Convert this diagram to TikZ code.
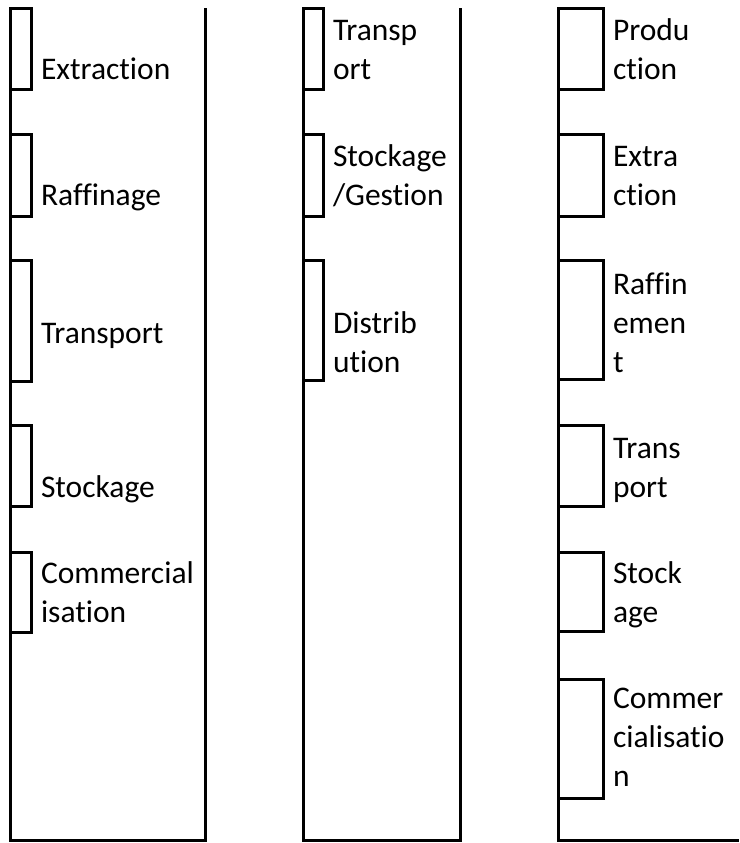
\documentclass[tikz,border=0pt]{standalone}
\usepackage{fontspec}
\setmainfont{Carlito}[RawFeature={-liga;-dlig;-clig}]
\begin{document}
\begin{tikzpicture}[x=1pt,y=-1pt,
  colline/.style={line width=3pt, draw=black, line join=miter},
  tabbox/.style={draw=black, line width=3pt, rectangle, inner sep=0pt, outer sep=0pt, anchor=north west},
  lbl/.style={anchor=base west, inner sep=0pt, outer sep=0pt, align=left,
    font=\fontsize{31.5}{39}\selectfont, text=black}]
\useasboundingbox (0,0) rectangle (739,843);
\fill[white] (0,0) rectangle (739,843);

% ---------- Column 1 ----------
\coordinate (c1tl) at (10.5,8.5);
\coordinate (c1bl) at (10.5,840);
\coordinate (c1br) at (205,840);
\coordinate (c1tr) at (205,8);
\draw[colline] (c1tl) -- (c1bl) -- (c1br) -- (c1tr);

\node[tabbox, minimum width=20.5pt, minimum height=80.5pt]  (a1) at (10.5,8.5) {};
\node[tabbox, minimum width=20.5pt, minimum height=82pt]    (a2) at (10.5,134) {};
\node[tabbox, minimum width=20.5pt, minimum height=121pt]   (a3) at (10.5,260) {};
\node[tabbox, minimum width=20.5pt, minimum height=81pt]    (a4) at (10.5,425) {};
\node[tabbox, minimum width=20.5pt, minimum height=80pt]    (a5) at (10.5,552) {};

\node[lbl] (ta1) at (41,80)  {Extraction};
\node[lbl] (ta2) at (41,205) {Raffinage};
\node[lbl] (ta3) at (41,343) {Transport};
\node[lbl] (ta4) at (41,497) {Stockage};
\node[lbl] (ta5) at (41,622) {Commercial\\isation};

% ---------- Column 2 ----------
\coordinate (c2tl) at (303,8.5);
\coordinate (c2bl) at (303,840);
\coordinate (c2br) at (460,840);
\coordinate (c2tr) at (460,8);
\draw[colline] (c2tl) -- (c2bl) -- (c2br) -- (c2tr);

\node[tabbox, minimum width=20pt, minimum height=80.5pt] (b1) at (303,8.5) {};
\node[tabbox, minimum width=20pt, minimum height=82pt]   (b2) at (303,134) {};
\node[tabbox, minimum width=20pt, minimum height=120pt]  (b3) at (303,260) {};

\node[lbl] (tb1) at (333,79)  {Transp\\ort};
\node[lbl] (tb2) at (333,205) {Stockage\\/Gestion};
\node[lbl] (tb3) at (333,372) {Distrib\\ution};

% ---------- Column 3 ----------
\coordinate (c3tl) at (558,8.5);
\coordinate (c3bl) at (558,840);
\coordinate (c3br) at (739,840);
\draw[colline] (c3tl) -- (c3bl) -- (c3br);

\node[tabbox, minimum width=45pt, minimum height=80.5pt] (d1) at (558,8.5) {};
\node[tabbox, minimum width=45pt, minimum height=82pt]   (d2) at (558,134) {};
\node[tabbox, minimum width=45pt, minimum height=119pt]  (d3) at (558,260) {};
\node[tabbox, minimum width=45pt, minimum height=81pt]   (d4) at (558,425) {};
\node[tabbox, minimum width=45pt, minimum height=79pt]   (d5) at (558,552) {};
\node[tabbox, minimum width=45pt, minimum height=119pt]  (d6) at (558,679) {};

\node[lbl] (td1) at (613,79)  {Produ\\ction};
\node[lbl] (td2) at (613,205) {Extra\\ction};
\node[lbl] (td3) at (613,372) {Raffin\\emen\\t};
\node[lbl] (td4) at (613,497) {Trans\\port};
\node[lbl] (td5) at (613,622) {Stock\\age};
\node[lbl] (td6) at (613,786) {Commer\\cialisatio\\n};
\end{tikzpicture}
\end{document}
